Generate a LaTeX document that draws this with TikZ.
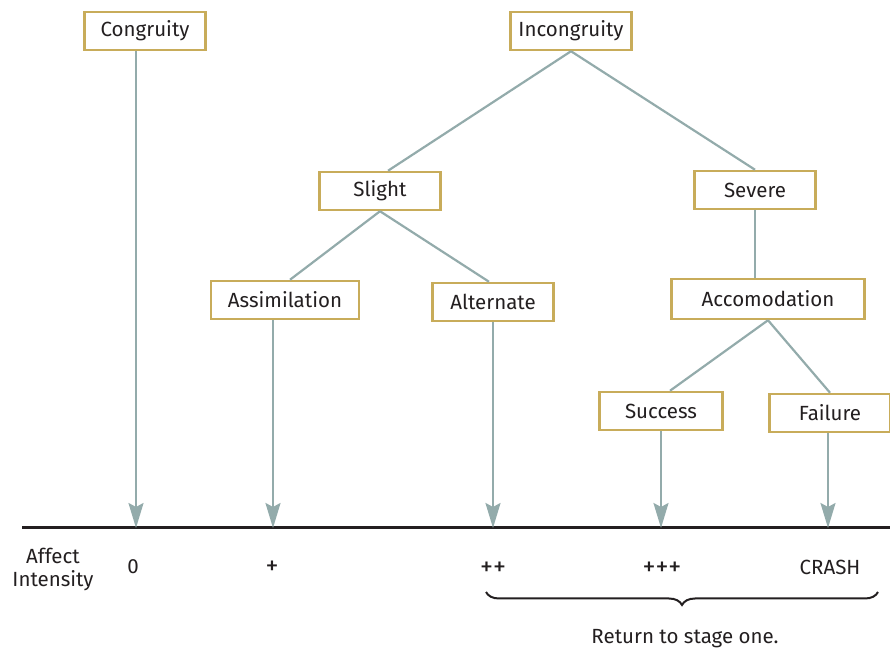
\documentclass[tikz,border=0pt]{standalone}
\usepackage{fontspec}
\setmainfont{Fira Sans}
\usepackage{tikz}
\usetikzlibrary{arrows.meta, decorations.pathreplacing}
\definecolor{boxgold}{RGB}{200,172,90}
\definecolor{linkgrey}{RGB}{147,171,171}
\definecolor{inkgrey}{RGB}{35,31,32}
\tikzstyle{stage} = [rectangle, minimum width=121pt, minimum height=38pt,
    text centered, draw=boxgold, line width=2.5pt, fill=white,
    text=inkgrey, font=\fontsize{20.5}{23}\selectfont]
\tikzstyle{link} = [draw=linkgrey, line width=2.2pt]
\tikzstyle{arrow} = [link, -{Stealth[length=25pt,width=15pt,inset=4pt]}]
\tikzstyle{level} = [text=inkgrey, font=\fontsize{20.5}{23}\selectfont]
\tikzstyle{plus} = [text=inkgrey, font=\fontsize{26}{28}\selectfont]

\begin{document}
\begin{tikzpicture}[x=1pt, y=1pt]
                \useasboundingbox (0,0) rectangle (890,652);
                % boxes
                \node (cong) [stage] at (145,621) {Congruity};
                \node (incong) [stage] at (571,621) {Incongruity};
                \node (slight) [stage] at (380,461) {Slight};
                \node (severe) [stage] at (755,462) {Severe};
                \node (assim) [stage, minimum width=148pt] at (285,352) {Assimilation};
                \node (alt) [stage] at (493,350) {Alternate};
                \node (accom) [stage, minimum width=193pt, minimum height=40pt] at (768,353) {Accomodation};
                \node (succ) [stage, minimum width=123pt] at (661,241) {Success};
                \node (fail) [stage] at (830,239) {Failure};
                % axis
                \coordinate (axl) at (22,124);
                \coordinate (axr) at (890,124);
                \coordinate (t0) at (136,124);
                \coordinate (t1) at (273,124);
                \coordinate (t2) at (493,124);
                \coordinate (t3) at (661,124);
                \coordinate (t4) at (828,124);
                \draw [line width=3pt, draw=inkgrey] (axl) -- (axr);
                % tree
                \draw [link] (incong.south) -- ([xshift=8pt]slight.north);
                \draw [link] (incong.south) -- (severe.north);
                \draw [link] (slight.south) -- ([xshift=5pt]assim.north);
                \draw [link] (slight.south) -- ([xshift=-4pt]alt.north);
                \draw [link] (severe.south) -- (severe.south |- accom.north);
                \draw [link] (accom.south) -- ([xshift=9pt]succ.north);
                \draw [link] (accom.south) -- (fail.north);
                \draw [arrow] (t0 |- cong.south) -- (t0);
                \draw [arrow] (t1 |- assim.south) -- (t1);
                \draw [arrow] (t2 |- alt.south) -- (t2);
                \draw [arrow] (t3 |- succ.south) -- (t3);
                \draw [arrow] (t4 |- fail.south) -- (t4);
                % labels
                \node (affect) [level, align=center] at (53,83) {Affect\\Intensity};
                \node (l0) [level] at (133,85) {0};
                \node (l1) [plus] at (272,84) {+};
                \node (l2) [plus] at (493,83) {++};
                \node (l3) [plus] at (662,83) {+++};
                \node (l4) [level] at (830,85) {CRASH};
                \coordinate (bl) at (486,60);
                \coordinate (br) at (878,60);
                \draw [decorate, decoration={brace, mirror, amplitude=13pt}, line width=2pt, draw=inkgrey] (bl) -- (br);
                \node (ret) [level] at (685,13) {Return to stage one.};
            \end{tikzpicture}
\end{document}
